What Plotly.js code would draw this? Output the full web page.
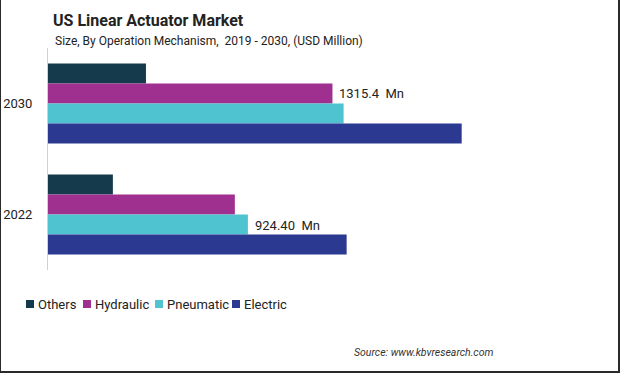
<!DOCTYPE html>
<html>
<head>
<meta charset="utf-8">
<script src="https://cdn.plot.ly/plotly-3.0.1.min.js"></script>
<style>
  html, body { margin: 0; padding: 0; background: #fff; }
  #wrap { position: relative; width: 620px; height: 373px; }
  #chart { width: 620px; height: 373px; }
  #frame { position: absolute; left: 0; top: 0; width: 620px; height: 373px; box-sizing: border-box;
           border-left: 1px solid #2a2a2a; border-right: 2px solid #2a2a2a; border-bottom: 2px solid #2a2a2a;
           pointer-events: none; }
</style>
</head>
<body>
<div id="wrap"><div id="chart"></div><div id="frame"></div></div>
<script>
const years = ['2030', '2022'];
const seriesNames = ['Others', 'Hydraulic', 'Pneumatic', 'Electric'];
const others    = [453, 300];
const hydraulic = [1315.4, 864];
const pneumatic = [1367, 924.4];
const electric  = [1913, 1381];
const seriesColors = ['#143a4c', '#a0308f', '#4fc3cf', '#2b3990'];
const labelTexts = ['1315.4  Mn', '924.40  Mn'];

const values = [others, hydraulic, pneumatic, electric];
const traces = seriesNames.map((name, i) => ({
  type: 'bar',
  orientation: 'h',
  name: name,
  y: years,
  x: values[i],
  marker: { color: seriesColors[i] },
  hoverinfo: 'x+name',
  showlegend: false
}));

const font = 'Roboto, "Noto Sans", Arial, sans-serif';
// pixel -> paper helpers (plot area: x 48..567, y 48..270)
const px = p => (p - 48) / 519;
const py = p => (270 - p) / 222;

// custom compact legend (square + name), matching reference spacing
const legendSquareX = [26, 83, 155, 232];
const shapes = [];
const annotations = [
  { text: 'Size, By Operation Mechanism,  2019 - 2030, (USD Million)', xref: 'paper', yref: 'paper',
    x: px(53), xanchor: 'left', y: py(41), yanchor: 'middle', showarrow: false,
    font: { family: font, size: 12, color: '#222' } },
  { text: labelTexts[0], x: hydraulic[0], y: -0.09, xref: 'x', yref: 'y', xanchor: 'left', yanchor: 'middle',
    xshift: 5, showarrow: false, font: { family: font, size: 13, color: '#222' } },
  { text: labelTexts[1], x: pneumatic[1], y: 1 + 0.09, xref: 'x', yref: 'y', xanchor: 'left', yanchor: 'middle',
    xshift: 5, yshift: -1, showarrow: false, font: { family: font, size: 13, color: '#222' } },
  { text: '<i>Source: www.kbvresearch.com</i>', xref: 'paper', yref: 'paper',
    x: px(495), xanchor: 'right', y: py(352), yanchor: 'middle', showarrow: false,
    font: { family: font, size: 10.5, color: '#333' } }
];
seriesNames.forEach((name, i) => {
  const x0 = legendSquareX[i];
  shapes.push({ type: 'rect', xref: 'paper', yref: 'paper', x0: px(x0), x1: px(x0 + 8), y0: py(308), y1: py(300),
    fillcolor: seriesColors[i], line: { width: 0 } });
  annotations.push({ text: name, xref: 'paper', yref: 'paper', x: px(x0 + 10), xanchor: 'left',
    y: py(304), yanchor: 'middle', showarrow: false, font: { family: font, size: 13, color: '#222' } });
});

const layout = {
  width: 620, height: 373,
  margin: { l: 48, r: 53, t: 48, b: 103 },
  paper_bgcolor: '#fff', plot_bgcolor: '#fff',
  barmode: 'group', bargap: 0.28, bargroupgap: 0,
  font: { family: font, color: '#222', size: 13 },
  title: {
    text: '<b>US Linear Actuator Market</b>',
    font: { family: font, size: 16, color: '#222' },
    xref: 'container', x: 53/620, xanchor: 'left',
    yref: 'container', y: 1 - 20/373, yanchor: 'middle'
  },
  xaxis: { range: [0, 2400], visible: false, showgrid: false, zeroline: false, fixedrange: true },
  yaxis: {
    type: 'category', categoryorder: 'array', categoryarray: years,
    autorange: 'reversed',
    showline: true, linecolor: '#d0d0d0', linewidth: 1,
    showgrid: false, zeroline: false, ticks: '',
    ticklabelstandoff: 12,
    tickfont: { family: font, size: 13, color: '#222' }
  },
  showlegend: false,
  shapes: shapes,
  annotations: annotations
};

Plotly.newPlot('chart', traces, layout, { displayModeBar: false, staticPlot: true });
</script>
</body>
</html>
